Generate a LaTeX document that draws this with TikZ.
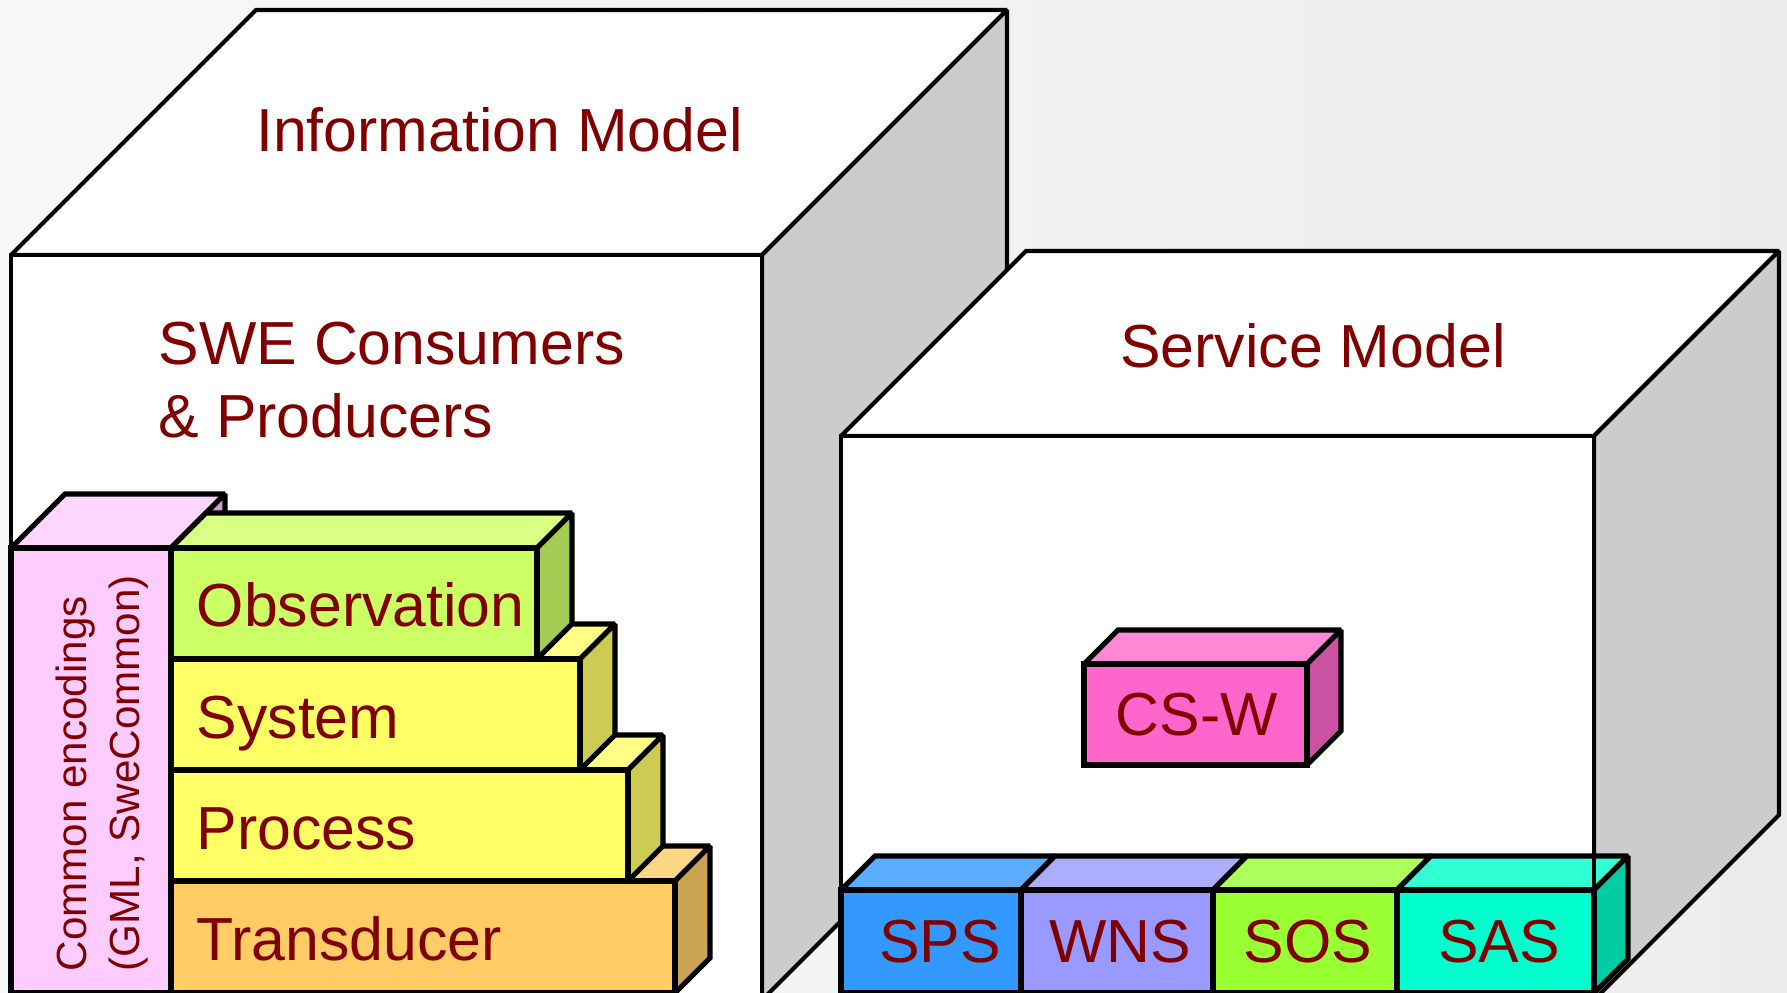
\documentclass[tikz,border=0pt]{standalone}
\usepackage{fontspec}
\setmainfont{Liberation Sans}
\usepackage{xcolor}
\definecolor{labelred}{HTML}{800000}
\definecolor{sidegray}{HTML}{CCCCCC}
\definecolor{bgleft}{HTML}{F8F9FA}
\definecolor{bgright}{HTML}{ECECEC}
\definecolor{encfront}{HTML}{FFCCFF}
\definecolor{enctop}{HTML}{FFD6FF}
\definecolor{encside}{HTML}{CCA3CC}
\definecolor{obsfront}{HTML}{CCFF66}
\definecolor{obstop}{HTML}{D9FF85}
\definecolor{obsside}{HTML}{A3CC52}
\definecolor{sysfront}{HTML}{FFFF66}
\definecolor{systop}{HTML}{FFFF85}
\definecolor{sysside}{HTML}{CCCC52}
\definecolor{trafront}{HTML}{FFCC66}
\definecolor{tratop}{HTML}{FFD685}
\definecolor{traside}{HTML}{CCA352}
\definecolor{cswfront}{HTML}{FF66CC}
\definecolor{cswtop}{HTML}{FF88D6}
\definecolor{cswside}{HTML}{CC52A3}
\definecolor{spsfront}{HTML}{3399FF}
\definecolor{spstop}{HTML}{5CADFF}
\definecolor{wnsfront}{HTML}{9999FF}
\definecolor{wnstop}{HTML}{ADADFF}
\definecolor{sosfront}{HTML}{99FF33}
\definecolor{sostop}{HTML}{ADFF5C}
\definecolor{sasfront}{HTML}{00FFCC}
\definecolor{sastop}{HTML}{33FFD6}
\definecolor{sasside}{HTML}{00CCA3}
\tikzset{
	cube/.style  = {draw, line width=1.2pt, miter limit=2},
	brick/.style = {draw, line width=1.5pt, miter limit=2},
	title/.style = {text=labelred, inner sep=0pt,
		font=\fontsize{17.3}{20.8}\selectfont},
	tag/.style   = {title, anchor=base west},
	enc/.style   = {text=labelred, inner sep=0pt, align=left,
		font=\fontsize{12}{15}\selectfont}
}
% #1 style, #2 left, #3 top, #4 right, #5 bottom, #6 depth, #7 front, #8 top, #9 side
\newcommand{\block}[9]{%
	\draw[#1, fill=#8] (#2,#3) -- ++(#6,-#6) -- ({#4+#6},{#3-#6}) -- (#4,#3) -- cycle;
	\draw[#1, fill=#9] (#4,#3) -- ({#4+#6},{#3-#6}) -- ({#4+#6},{#5-#6}) -- (#4,#5) -- cycle;
	\draw[#1, fill=#7] (#2,#3) rectangle (#4,#5);
}

\begin{document}
\begin{tikzpicture}
[
x = 0.1mm, y = -0.1mm
]
\useasboundingbox (0,0) rectangle (1787,993);
\shade[left color=bgleft, right color=bgright] (0,0) rectangle (1787,993);

% information model
\block{cube}{11}{255}{762}{1000}{245}{white}{white}{sidegray}
\node[title, anchor=base] (info) at (499.5,151.6) {Information Model};
\node[title, anchor=base west, align=left] (swe) at (158,438) {SWE Consumers\\\& Producers};

% encodings and stack
\block{brick}{11}{548}{171}{993}{54}{encfront}{enctop}{encside}
\block{brick}{171}{881}{675}{993}{35}{trafront}{tratop}{traside}
\block{brick}{171}{770}{628}{881}{35}{sysfront}{systop}{sysside}
\block{brick}{171}{659}{580}{770}{35}{sysfront}{systop}{sysside}
\block{brick}{171}{548}{537}{659}{35}{obsfront}{obstop}{obsside}
\node[enc, rotate=90, anchor=west] (common) at (102,972) {Common encodings\\(GML, SweCommon)};
\node[tag] (obs) at (196,627) {Observation};
\node[tag] (sys) at (196,738.5) {System};
\node[tag] (proc) at (196,850) {Process};
\node[tag] (trans) at (196,961) {Transducer};

% service model
\block{cube}{841}{436}{1594}{1000}{185}{white}{white}{sidegray}
\node[title, anchor=base] (service) at (1313,368) {Service Model};
\block{brick}{1084}{664}{1307}{765}{34}{cswfront}{cswtop}{cswside}
\node[title, anchor=base] (csw) at (1197,736) {CS-W};

\block{brick}{841}{890}{1021}{993}{34}{spsfront}{spstop}{spsfront}
\block{brick}{1021}{890}{1213}{993}{34}{wnsfront}{wnstop}{wnsfront}
\block{brick}{1213}{890}{1397}{993}{34}{sosfront}{sostop}{sosfront}
\block{brick}{1397}{890}{1594}{993}{34}{sasfront}{sastop}{sasside}
\draw[cube] (1594,857) -- (1594,890);
\node[title, anchor=base] (sps) at (940,963) {SPS};
\node[title, anchor=base] (wns) at (1120,963) {WNS};
\node[title, anchor=base] (sos) at (1308,963) {SOS};
\node[title, anchor=base] (sas) at (1499,963) {SAS};
\end{tikzpicture}
\end{document}
